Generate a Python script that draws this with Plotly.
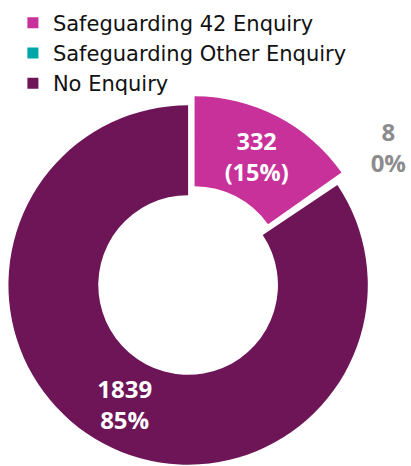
import plotly.graph_objects as go

# ---- data ----
labels = ["Safeguarding 42 Enquiry", "Safeguarding Other Enquiry", "No Enquiry"]
values = [332, 8, 1839]
pct_labels = ["(15%)", "0%", "85%"]
colors = ["#C8309A", "#00A5A8", "#6E1558"]
text_colors = ["#FFFFFF", "#8C8C8C", "#FFFFFF"]
text_positions = ["inside", "outside", "inside"]

W, H = 411, 466
slice_text = [f"{v}<br>{p}" for v, p in zip(values, pct_labels)]


def dom(cx, cy, r):
    """pie domain (paper) for a pie centred at pixel (cx, cy) with radius r"""
    return dict(x=[(cx - r) / W, (cx + r) / W], y=[(H - cy - r) / H, (H - cy + r) / H])


def pie_for(idx, domain, show_fill=True):
    n = len(values)
    return go.Pie(
        labels=labels,
        values=values,
        text=[slice_text[i] if i == idx else "" for i in range(n)],
        textinfo="text",
        textposition=[text_positions[i] if i == idx else "none" for i in range(n)],
        insidetextorientation="horizontal",
        textfont=dict(family="Open Sans", size=24, weight="bold",
                      color=[text_colors[i] for i in range(n)]),
        marker=dict(colors=[colors[i] if (i == idx and show_fill) else "rgba(0,0,0,0)"
                            for i in range(n)],
                    line=dict(width=0)),
        hole=0.5,
        sort=False,
        direction="clockwise",
        rotation=0,
        showlegend=False,
        hoverinfo="label+value",
        domain=domain,
    )


R = 181
fig = go.Figure()
# No Enquiry (main ring)
fig.add_trace(pie_for(2, dom(189.5, 285, R)))
# Safeguarding 42 Enquiry (exploded slice)
fig.add_trace(pie_for(0, dom(196, 276, R)))
# Safeguarding Other Enquiry (tiny slice, label outside)
fig.add_trace(pie_for(1, dom(208, 259, R), show_fill=False))

# legend entries
for lab, col in zip(labels, colors):
    fig.add_trace(go.Scatter(
        x=[None], y=[None], mode="markers", name=lab,
        marker=dict(symbol="square", size=11, color=col),
        showlegend=True, hoverinfo="skip",
    ))

fig.update_layout(
    width=W, height=H,
    margin=dict(l=0, r=0, t=0, b=0),
    paper_bgcolor="white", plot_bgcolor="white",
    xaxis=dict(visible=False), yaxis=dict(visible=False),
    legend=dict(x=13 / W, y=1 - 2.5 / H, xanchor="left", yanchor="top",
                font=dict(family="DejaVu Sans", size=21, color="#111111"),
                itemsizing="trace", bgcolor="rgba(0,0,0,0)",
                tracegroupgap=0),
)

fig.write_html("out.html",
               config={"displayModeBar": False},
               post_script="document.body.style.margin='0';document.body.style.overflow='hidden';")
